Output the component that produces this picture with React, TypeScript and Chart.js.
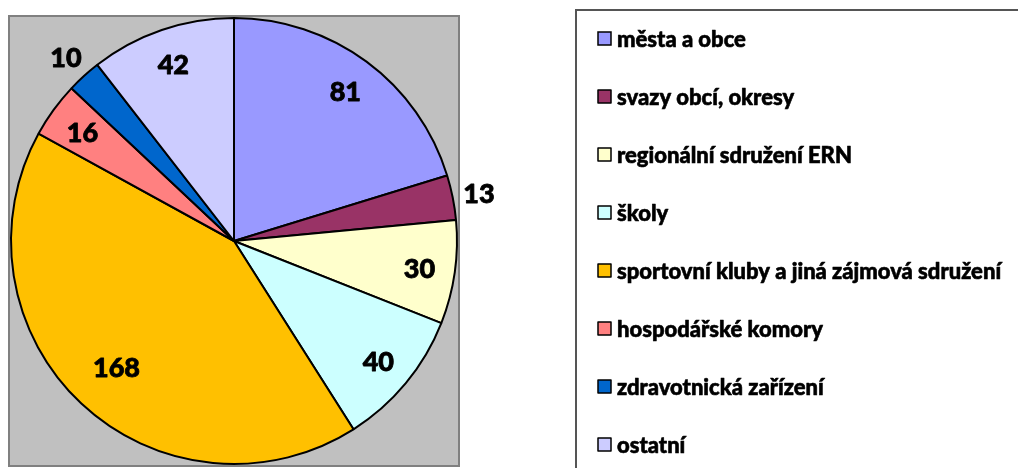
import React, { useEffect, useRef } from "react";
import { Chart, registerables } from "chart.js";

Chart.register(...registerables);

const categories = [
  "města a obce",
  "svazy obcí, okresy",
  "regionální sdružení ERN",
  "školy",
  "sportovní kluby a jiná zájmová sdružení",
  "hospodářské komory",
  "zdravotnická zařízení",
  "ostatní",
];
const values = [81, 13, 30, 40, 168, 16, 10, 42];
const colors = ["#9999FF", "#993366", "#FFFFCC", "#CCFFFF", "#FFC000", "#FF8080", "#0066CC", "#CCCCFF"];

const FONT = "Lato, 'Noto Sans', sans-serif";

const plotAreaPlugin = {
  id: "plotArea",
  beforeDatasetsDraw(chart: any) {
    const ctx = chart.ctx;
    const a = chart.chartArea;
    ctx.save();
    ctx.fillStyle = "#C0C0C0";
    ctx.fillRect(a.left - 1, a.top - 1, a.right - a.left + 2, a.bottom - a.top + 2);
    ctx.strokeStyle = "#808080";
    ctx.lineWidth = 2;
    ctx.strokeRect(a.left - 1, a.top - 1, a.right - a.left + 2, a.bottom - a.top + 2);
    ctx.restore();
  },
};

const labelPlugin = {
  id: "sliceLabels",
  afterDatasetsDraw(chart: any) {
    const ctx = chart.ctx;
    const meta = chart.getDatasetMeta(0);
    const data = chart.data.datasets[0].data as number[];
    const total = data.reduce((s, v) => s + v, 0);
    ctx.save();
    ctx.font = `900 27px ${FONT}`;
    ctx.fillStyle = "#000";
    ctx.strokeStyle = "#000";
    ctx.lineWidth = 0.8;
    ctx.lineJoin = "round";
    ctx.textAlign = "center";
    ctx.textBaseline = "middle";
    meta.data.forEach((arc: any, i: number) => {
      const p = arc.getProps(["x", "y", "startAngle", "endAngle", "outerRadius"], true);
      const mid = (p.startAngle + p.endAngle) / 2;
      const share = data[i] / total;
      let f = 0.84;
      if (share < 0.035) f = 1.12;
      else if (share > 0.3) f = 0.77;
      const r = p.outerRadius * f;
      const x = p.x + Math.cos(mid) * r;
      const y = p.y + Math.sin(mid) * r + 2;
      ctx.fillText(String(data[i]), x, y);
      ctx.strokeText(String(data[i]), x, y);
    });
    ctx.restore();
  },
};

const legendPlugin = {
  id: "boxLegend",
  afterDraw(chart: any) {
    const ctx = chart.ctx;
    const labels = chart.data.labels as string[];
    const bg = chart.data.datasets[0].backgroundColor as string[];
    ctx.save();
    ctx.strokeStyle = "#555";
    ctx.lineWidth = 2;
    ctx.beginPath();
    ctx.moveTo(1030, 10);
    ctx.lineTo(576, 10);
    ctx.lineTo(576, 480);
    ctx.stroke();
    ctx.font = `900 22px ${FONT}`;
    ctx.textBaseline = "middle";
    ctx.textAlign = "left";
    labels.forEach((lab, i) => {
      const y = 39 + i * 58;
      ctx.fillStyle = bg[i];
      ctx.fillRect(598, y - 7, 13, 13);
      ctx.strokeStyle = "#000";
      ctx.lineWidth = 1.5;
      ctx.strokeRect(598, y - 7, 13, 13);
      ctx.fillStyle = "#000";
      ctx.lineWidth = 0.6;
      ctx.lineJoin = "round";
      ctx.fillText(lab, 617, y + 1);
      ctx.strokeText(lab, 617, y + 1);
    });
    ctx.restore();
  },
};

export default function App() {
  const ref = useRef<HTMLCanvasElement>(null);
  useEffect(() => {
    if (!ref.current) return;
    const chart = new Chart(ref.current, {
      type: "pie",
      data: {
        labels: categories,
        datasets: [
          {
            data: values,
            backgroundColor: colors,
            borderColor: "#000",
            borderWidth: 2,
          },
        ],
      },
      options: {
        animation: false,
        responsive: false,
        layout: { padding: { left: 10, top: 17, right: 560, bottom: 3 } },
        plugins: {
          legend: { display: false },
          tooltip: { enabled: false },
        },
      },
      plugins: [plotAreaPlugin, labelPlugin, legendPlugin],
    });
    return () => chart.destroy();
  }, []);
  return (
    <div style={{ position: "absolute", left: 0, top: 0, width: 1018, height: 468, background: "#fff" }}>
      <canvas ref={ref} width={1018} height={468} style={{ display: "block" }} />
    </div>
  );
}
